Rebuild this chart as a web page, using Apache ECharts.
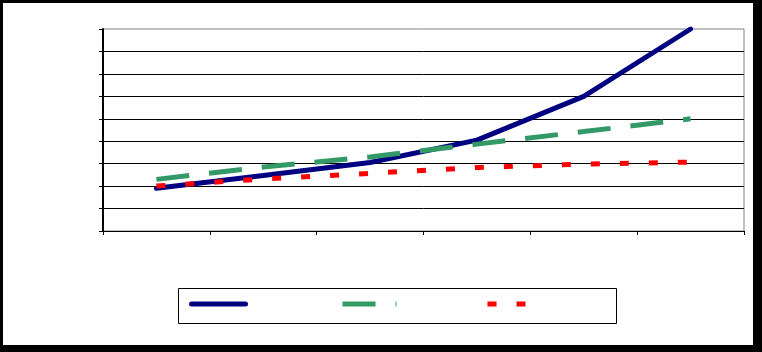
<!DOCTYPE html>
<html>
<head>
<meta charset="utf-8">
<script src="https://cdn.jsdelivr.net/npm/echarts@6/dist/echarts.min.js"></script>
<style>
    html, body { margin: 0; padding: 0; background: #000; }
    #main { width: 762px; height: 352px; }
</style>
</head>
<body>
<div id="main"></div>
<script>
// categories (no labels shown in the picture)
var cats = ['1', '2', '3', '4', '5', '6'];
var blueVals = [1.9, 2.47, 3.05, 4.05, 6.0, 9.0];
var greenVals = [2.3, 2.85, 3.3, 3.87, 4.43, 5.0];
var redVals = [2.0, 2.32, 2.57, 2.83, 2.98, 3.07];
var names = ['s1', 's2', 's3'];

render();

function legendAt(name, left, width, cap) {
    return {
        data: [name],
        left: left,
        top: 299,
        itemWidth: 54,
        itemHeight: 10,
        padding: 0,
        selectedMode: false,
        formatter: function () { return '' },
        textStyle: { fontSize: 1, padding: 0 },
        itemStyle: { opacity: 0 },
        lineStyle: { width: width, cap: cap }
    }
}

function render() {
    var myChart = echarts.init(document.getElementById('main'));

    var option = {
        backgroundColor: '#000',
        animation: false,
        graphic: [
            {
                type: 'rect', z: -10,
                shape: { x: 3, y: 3, width: 750, height: 342 },
                style: { fill: '#fff' }
            },
            {
                type: 'rect', z: -5,
                shape: { x: 178.5, y: 288.5, width: 438, height: 35 },
                style: { fill: '#fff', stroke: '#000', lineWidth: 1 }
            }
        ],
        legend: [
            legendAt(names[0], 189, 5, 'round'),
            legendAt(names[1], 340, 5, 'butt'),
            legendAt(names[2], 485, 5, 'butt')
        ],
        grid: {
            left: 103, right: 18, top: 29, bottom: 121,
            show: true,
            backgroundColor: '#fff',
            borderColor: '#808080',
            borderWidth: 1
        },
        xAxis: {
            type: 'category',
            boundaryGap: true,
            data: cats,
            axisLine: { lineStyle: { color: '#000', width: 1 } },
            axisTick: { show: true, length: 4, lineStyle: { color: '#000' } },
            axisLabel: { show: false },
            splitLine: { show: false }
        },
        yAxis: {
            type: 'value',
            min: 0, max: 9, interval: 1,
            axisLine: { show: true, lineStyle: { color: '#000', width: 2 } },
            axisTick: { show: true, length: 4, lineStyle: { color: '#000' } },
            axisLabel: { show: false },
            splitLine: { show: true, showMaxLine: false, lineStyle: { color: '#000', width: 1 } }
        },
        series: [
            {
                name: names[0], type: 'line', data: blueVals,
                symbol: 'none', color: '#000080',
                lineStyle: { color: '#000080', width: 5, cap: 'round', join: 'round' }
            },
            {
                name: names[1], type: 'line', data: greenVals,
                symbol: 'none', color: '#339966',
                lineStyle: { color: '#339966', width: 5, type: [33, 20] }
            },
            {
                name: names[2], type: 'line', data: redVals,
                symbol: 'none', color: '#ff0000',
                lineStyle: { color: '#ff0000', width: 5, type: [9, 20] }
            }
        ]
    };

    myChart.setOption(option);
}
</script>
</body>
</html>
